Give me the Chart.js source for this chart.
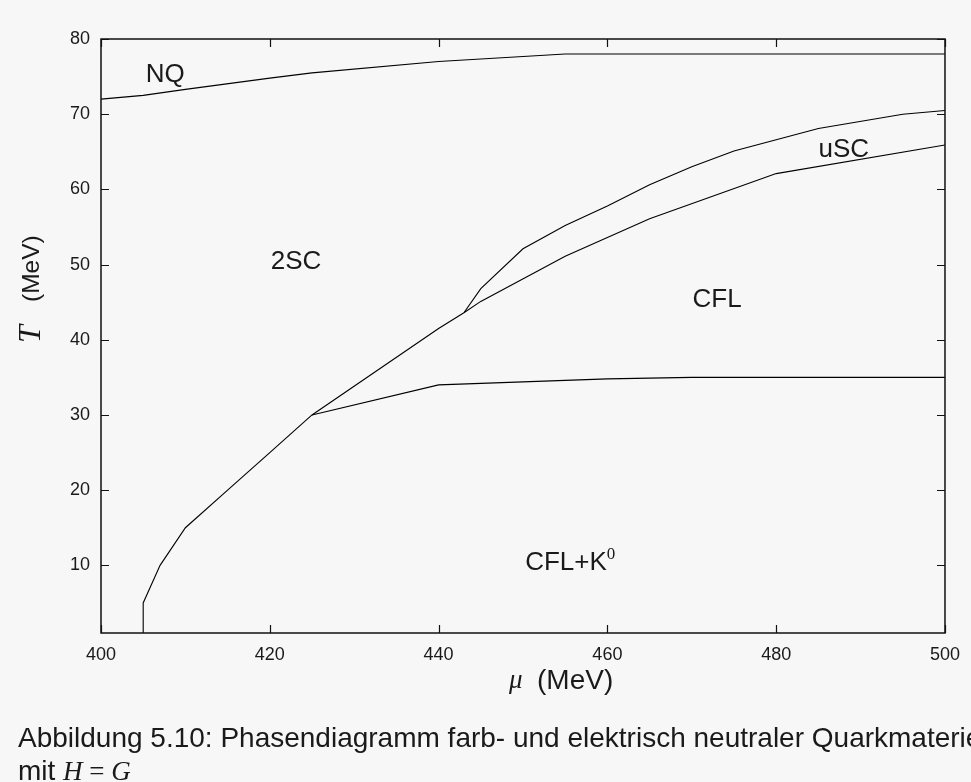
<!DOCTYPE html>
<html>
<head>
<meta charset="utf-8">
<script src="https://cdn.jsdelivr.net/npm/chart.js@4.4.1/dist/chart.umd.min.js"></script>
<style>
  html, body { margin: 0; padding: 0; background: #f7f7f7; }
  canvas { display: block; }
</style>
</head>
<body>
<canvas id="phase" width="971" height="782"></canvas>
<script>
// Phase boundaries in the (mu, T) plane, all values in MeV
const nqMu = [400, 405, 410, 420, 425, 440, 455, 500];
const nqT = [72, 72.5, 73.3, 74.8, 75.5, 77, 78, 78];

const twoScMu = [405, 405, 407, 410, 415, 420, 425, 440, 443];
const twoScT = [1, 5, 10, 15, 20, 25, 30, 41.5, 43.6];

const uscUpperMu = [443, 445, 450, 455, 460, 465, 470, 475, 485, 495, 500];
const uscUpperT = [43.6, 46.8, 52.1, 55.2, 57.8, 60.6, 63, 65.1, 68.1, 70, 70.5];

const uscLowerMu = [443, 445, 455, 465, 480, 500];
const uscLowerT = [43.6, 45.1, 51.1, 56.1, 62.1, 65.9];

const kaonMu = [425, 440, 460, 470, 500];
const kaonT = [30, 34, 34.8, 35, 35];

const xTicks = [400, 420, 440, 460, 480, 500];
const yTicks = [10, 20, 30, 40, 50, 60, 70, 80];

// phase names, placed in data coordinates
const regionLabels = [
  { text: "NQ", mu: 407.6, t: 75.3 },
  { text: "2SC", mu: 423.1, t: 50.3 },
  { text: "uSC", mu: 488.0, t: 65.2 },
  { text: "CFL", mu: 473.0, t: 45.3 },
  { text: "CFL+K", sup: "0", mu: 455.6, t: 10.3 }
];

const SANS = '"Liberation Sans", Arial, Helvetica, sans-serif';
const SERIF = '"Liberation Serif", "Times New Roman", serif';
const INK = "#1a1a1a";

function toPoints(mu, t) {
  return mu.map((m, i) => ({ x: m, y: t[i] }));
}

function boundary(mu, t) {
  return {
    data: toPoints(mu, t),
    showLine: true,
    borderColor: "#000",
    borderWidth: 1.1,
    pointRadius: 0,
    tension: 0,
    fill: false
  };
}

// draws a run of differently styled text pieces, left to right
function drawRun(ctx, parts, x, y) {
  let cx = x;
  parts.forEach((p) => {
    ctx.font = p.font;
    ctx.fillText(p.text, cx, y + (p.dy || 0));
    cx += ctx.measureText(p.text).width;
  });
}

function runWidth(ctx, parts) {
  let w = 0;
  parts.forEach((p) => {
    ctx.font = p.font;
    w += ctx.measureText(p.text).width;
  });
  return w;
}

const framePlugin = {
  id: "frame",
  afterDatasetsDraw(chart) {
    const { ctx, chartArea: a, scales } = chart;
    const x = scales.x, y = scales.y;
    const tick = 8;

    ctx.save();
    ctx.strokeStyle = "#111";
    ctx.lineWidth = 1.5;
    ctx.strokeRect(a.left, a.top, a.right - a.left, a.bottom - a.top);

    // inward ticks on all four sides
    ctx.lineWidth = 1.2;
    ctx.beginPath();
    x.ticks.forEach((t) => {
      const px = Math.round(x.getPixelForValue(t.value)) + 0.5;
      ctx.moveTo(px, a.bottom);
      ctx.lineTo(px, a.bottom - tick);
      ctx.moveTo(px, a.top);
      ctx.lineTo(px, a.top + tick);
    });
    y.ticks.forEach((t) => {
      const py = Math.round(y.getPixelForValue(t.value)) + 0.5;
      ctx.moveTo(a.left, py);
      ctx.lineTo(a.left + tick, py);
      ctx.moveTo(a.right, py);
      ctx.lineTo(a.right - tick, py);
    });
    ctx.stroke();

    // region names
    ctx.fillStyle = INK;
    ctx.textBaseline = "middle";
    ctx.textAlign = "left";
    regionLabels.forEach((r) => {
      const px = x.getPixelForValue(r.mu);
      const py = y.getPixelForValue(r.t);
      const parts = [{ text: r.text, font: "26px " + SANS }];
      if (r.sup) parts.push({ text: r.sup, font: "17px " + SERIF, dy: -9 });
      drawRun(ctx, parts, px - runWidth(ctx, parts) / 2, py);
    });

    // axis titles: italic symbol followed by the unit
    ctx.font = "italic 27px " + SERIF;
    ctx.fillText("\u03bc", 509, 681);
    ctx.font = "28px " + SANS;
    ctx.fillText("(MeV)", 537, 681);

    ctx.save();
    ctx.translate(32, 343);
    ctx.rotate(-Math.PI / 2);
    ctx.font = "italic 32px " + SERIF;
    ctx.fillText("T", 0, 0);
    ctx.font = "24.5px " + SANS;
    ctx.fillText("(MeV)", 41, 0);
    ctx.restore();

    // figure caption
    ctx.textBaseline = "alphabetic";
    drawRun(ctx, [{
      text: "Abbildung 5.10: Phasendiagramm farb- und elektrisch neutraler Quarkmaterie",
      font: "28px " + SANS
    }], 18, 747);
    drawRun(ctx, [
      { text: "mit ", font: "28px " + SANS },
      { text: "H", font: "italic 27px " + SERIF },
      { text: " = ", font: "27px " + SERIF },
      { text: "G", font: "italic 27px " + SERIF }
    ], 18, 780);
    ctx.restore();
  }
};

const tickFont = { family: SANS, size: 18 };

new Chart(document.getElementById("phase"), {
  type: "scatter",
  data: {
    datasets: [
      boundary(nqMu, nqT),
      boundary(twoScMu, twoScT),
      boundary(uscUpperMu, uscUpperT),
      boundary(uscLowerMu, uscLowerT),
      boundary(kaonMu, kaonT)
    ]
  },
  options: {
    responsive: false,
    animation: false,
    devicePixelRatio: 1,
    layout: { padding: { top: 39, right: 25, left: 0, bottom: 0 } },
    plugins: {
      legend: { display: false },
      tooltip: { enabled: false }
    },
    scales: {
      x: {
        type: "linear",
        min: 400,
        max: 500,
        grid: { display: false, drawTicks: false },
        border: { display: false },
        afterBuildTicks: (s) => { s.ticks = xTicks.map((v) => ({ value: v })); },
        afterFit: (s) => { s.height = 149; },
        ticks: { padding: 11, color: INK, font: tickFont }
      },
      y: {
        type: "linear",
        min: 1,
        max: 80,
        grid: { display: false, drawTicks: false },
        border: { display: false },
        afterBuildTicks: (s) => { s.ticks = yTicks.map((v) => ({ value: v })); },
        afterFit: (s) => { s.width = 101; },
        ticks: { padding: 11, color: INK, font: tickFont }
      }
    }
  },
  plugins: [framePlugin]
});
</script>
</body>
</html>
